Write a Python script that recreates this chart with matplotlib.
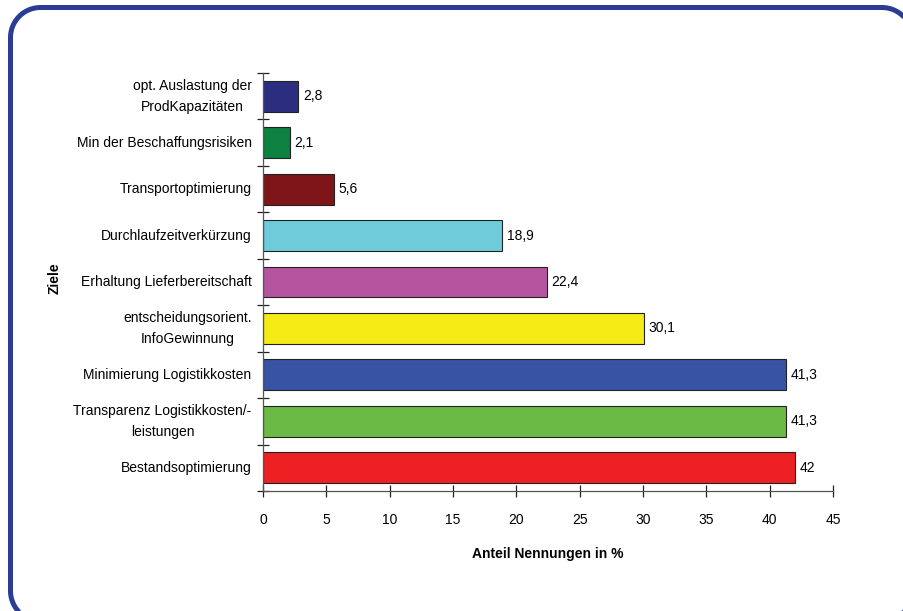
import numpy as np
import matplotlib.pyplot as plt
from matplotlib.patches import PathPatch
from matplotlib.path import Path
from matplotlib.transforms import Affine2D

plt.rcParams['font.family'] = ['Liberation Sans', 'DejaVu Sans']

# categories from bottom to top
ziele = ['Bestandsoptimierung',
         'Transparenz Logistikkosten/-\nleistungen',
         'Minimierung Logistikkosten',
         'entscheidungsorient.\nInfoGewinnung',
         'Erhaltung Lieferbereitschaft',
         'Durchlaufzeitverkürzung',
         'Transportoptimierung',
         'Min der Beschaffungsrisiken',
         'opt. Auslastung der\nProdKapazitäten']
anteil = [42, 41.3, 41.3, 30.1, 22.4, 18.9, 5.6, 2.1, 2.8]
farben = ['#ED2024', '#6BBA45', '#3953A4', '#F5EB14', '#B5559F',
          '#6DCBDA', '#7E1519', '#0D8140', '#2B2E7E']
xticks = [0, 5, 10, 15, 20, 25, 30, 35, 40, 45]

fig = plt.figure(figsize=(9.04, 6.11), dpi=100)

# rounded blue frame in pixel units (runs off the right and bottom edges)
def rounded_rect(x0, y0, x1, y1, r, n=20):
    pts = []
    for cx, cy, a0 in [(x1 - r, y1 - r, 0), (x0 + r, y1 - r, 90),
                       (x0 + r, y0 + r, 180), (x1 - r, y0 + r, 270)]:
        a = np.radians(np.linspace(a0, a0 + 90, n))
        pts += list(zip(cx + r * np.cos(a), cy + r * np.sin(a)))
    pts.append(pts[0])
    return Path(pts)

px = Affine2D().scale(fig.dpi / 100.0)
frame = PathPatch(rounded_rect(10.5, -10, 912, 603.5, 30), transform=px,
                  facecolor='none', edgecolor='#2A3C94', linewidth=3.6, zorder=-1)
fig.patches.append(frame)

ax = fig.add_axes([263 / 904, 1 - 491 / 611, 570 / 904, 418 / 611])
ax.set_facecolor('none')
pos = list(range(len(ziele)))
ax.barh(pos, anteil, height=0.667, color=farben, edgecolor='#222222', linewidth=0.8)

for p, v in zip(pos, anteil):
    txt = f'{v:g}'.replace('.', ',')
    ax.text(v + 0.35, p, txt, va='center', ha='left', fontsize=10)

ax.set_xlim(0, 45)
ax.set_ylim(-0.5, len(ziele) - 0.5)
ax.set_xticks(xticks)
ax.set_xticklabels([str(t) for t in xticks], fontsize=10)

# category labels between tick marks (ticks on boundaries)
ax.set_yticks([p + 0.5 for p in pos[:-1]] + [-0.5, len(ziele) - 0.5])
ax.set_yticklabels([])
for p, name in zip(pos, ziele):
    ax.text(-0.9, p, name, ha='right', va='center', multialignment='center',
            fontsize=10, linespacing=1.6, clip_on=False)

ax.tick_params(axis='both', direction='inout', length=8, width=0.9, color='#222222')
ax.tick_params(axis='x', pad=12)
for s in ['top', 'right']:
    ax.spines[s].set_visible(False)
for s in ['left', 'bottom']:
    ax.spines[s].set_color('#555555')
    ax.spines[s].set_linewidth(0.9)

ax.set_xlabel('Anteil Nennungen in %', fontsize=10, fontweight='bold', labelpad=14)
fig.text(55 / 904, 1 - 278 / 611, 'Ziele', rotation=90, ha='center', va='center',
         fontsize=10, fontweight='bold')

fig.savefig('out.png', dpi=100)
